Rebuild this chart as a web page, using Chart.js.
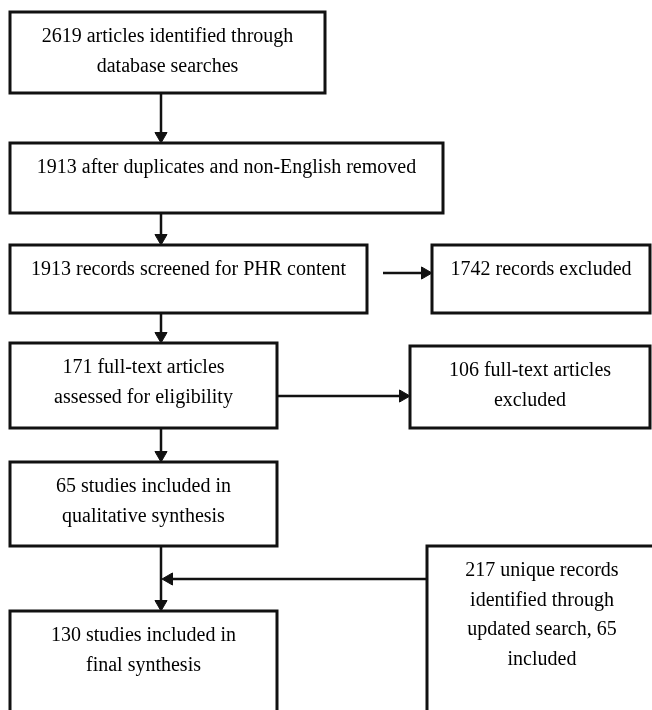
<!DOCTYPE html>
<html>
<head>
<meta charset="utf-8">
<script src="https://cdn.jsdelivr.net/npm/chart.js@4"></script>
<style>
  html, body { margin: 0; padding: 0; background: #fff; }
</style>
</head>
<body>
<canvas id="flow" width="652" height="710"></canvas>
<script>
// flow diagram content, in the picture's own units (0..652 across, 0..710 down)
const boxLabels = [
  ["2619 articles identified through", "database searches"],
  ["1913 after duplicates and non-English removed"],
  ["1913 records screened for PHR content"],
  ["1742 records excluded"],
  ["171 full-text articles", "assessed for eligibility"],
  ["106 full-text articles", "excluded"],
  ["65 studies included in", "qualitative synthesis"],
  ["217 unique records", "identified through", "updated search, 65", "included"],
  ["130 studies included in", "final synthesis"]
];
const boxLeft   = [10, 10, 10, 432, 10, 410, 10, 427, 10];
const boxRight  = [325, 443, 367, 650, 277, 650, 277, 657, 277];
const boxTop    = [12, 143, 245, 245, 343, 346, 462, 546, 611];
const boxBottom = [93, 213, 313, 313, 428, 428, 546, 740, 740];

const arrowFrom = [[161, 93], [161, 213], [383, 273], [161, 313], [277, 396], [161, 428], [161, 546], [427, 579]];
const arrowTo   = [[161, 143], [161, 245], [432, 273], [161, 343], [410, 396], [161, 462], [161, 611], [162, 579]];

const INK = "#111";
const HEAD = 7;

const datasets = [];

boxLabels.forEach((lbl, i) => {
  const l = boxLeft[i], r = boxRight[i], t = boxTop[i], b = boxBottom[i];
  datasets.push({
    showLine: true,
    data: [{x: l, y: t}, {x: r, y: t}, {x: r, y: b}, {x: l, y: b}, {x: l, y: t}],
    borderColor: INK,
    borderWidth: 3,
    borderJoinStyle: "miter",
    borderCapStyle: "square",
    pointRadius: 0,
    tension: 0
  });
});

arrowFrom.forEach((f, i) => {
  const to = arrowTo[i];
  const dx = Math.sign(to[0] - f[0]), dy = Math.sign(to[1] - f[1]);
  let rot = 0;
  if (dy > 0) rot = 180;
  else if (dx > 0) rot = 90;
  else if (dx < 0) rot = 270;
  datasets.push({
    showLine: true,
    data: [{x: f[0], y: f[1]}, {x: to[0] - dx * HEAD, y: to[1] - dy * HEAD}],
    borderColor: INK,
    backgroundColor: INK,
    borderWidth: 2.5,
    pointStyle: "triangle",
    pointRotation: rot,
    pointBorderWidth: 1,
    pointRadius: ctx => ctx.dataIndex === 1 ? HEAD : 0,
    tension: 0
  });
});

const boxText = {
  id: "boxText",
  afterDatasetsDraw(chart) {
    const {ctx, scales: {x, y}} = chart;
    ctx.save();
    ctx.fillStyle = "#000";
    ctx.font = "20px 'Liberation Serif', 'Times New Roman', serif";
    ctx.textAlign = "center";
    ctx.textBaseline = "middle";
    boxLabels.forEach((lines, i) => {
      const cx = x.getPixelForValue((boxLeft[i] + boxRight[i]) / 2);
      lines.forEach((s, j) => {
        ctx.fillText(s, cx, y.getPixelForValue(boxTop[i] + 25 + j * 29.5));
      });
    });
    ctx.restore();
  }
};

new Chart(document.getElementById("flow"), {
  type: "scatter",
  data: { datasets },
  options: {
    responsive: false,
    devicePixelRatio: 1,
    animation: false,
    layout: { padding: 0, autoPadding: false },
    plugins: { legend: { display: false }, tooltip: { enabled: false } },
    scales: {
      x: { type: "linear", min: 0, max: 652, display: false },
      y: { type: "linear", min: 0, max: 710, reverse: true, display: false }
    }
  },
  plugins: [boxText]
});
</script>
</body>
</html>
